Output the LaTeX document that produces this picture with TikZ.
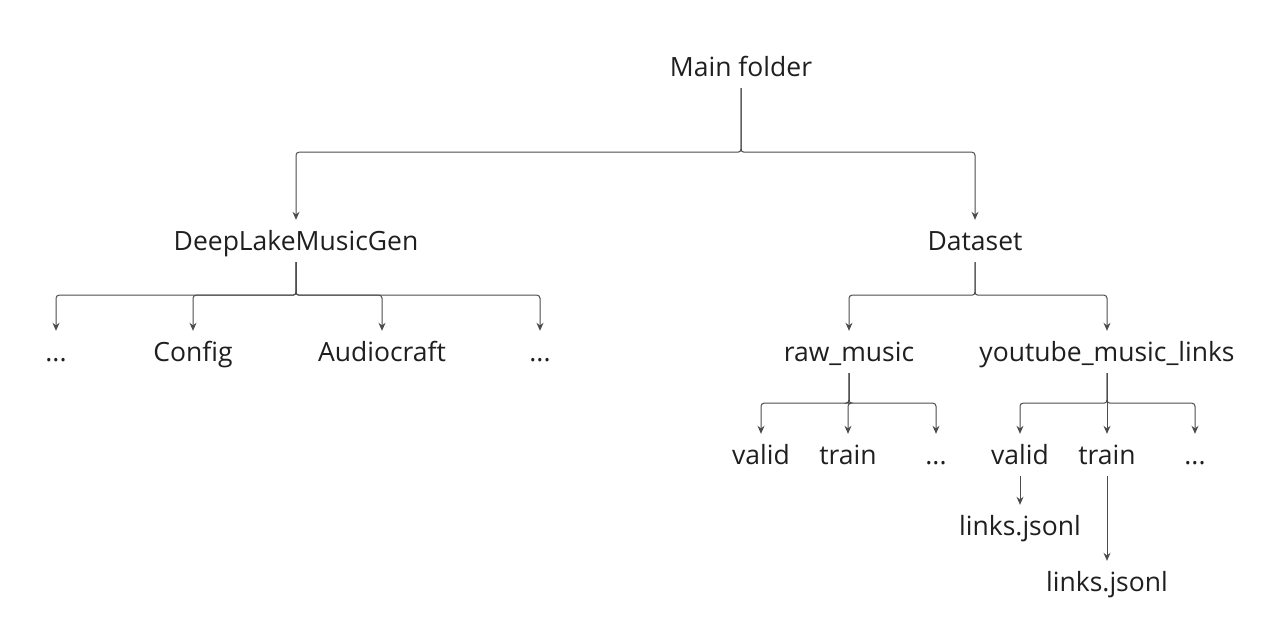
\documentclass[tikz,border=0pt]{standalone}
\usepackage{fontspec}
\setmainfont{Open Sans}
\usetikzlibrary{arrows.meta}

\begin{document}
\begin{tikzpicture}[x=1pt, y=-1pt, >={Stealth[length=8pt,width=7pt]},
  item/.style={inner sep=0pt, minimum height=42pt, text height=22pt, text depth=3pt,
    font=\fontsize{26.5}{30}\selectfont, text=black!88},
  link/.style={->, draw=black!70, line width=1pt, rounded corners=3pt}]
  \useasboundingbox (0,0) rectangle (1287,639);
  % top level
  \node[item] (main) at (741,67) {Main folder};
  \node[item] (deep) at (296,241) {DeepLakeMusicGen};
  \node[item] (data) at (975,241) {Dataset};
  % DeepLakeMusicGen children
  \node[item] (dotsA)  at (56,352)  {...};
  \node[item] (config) at (193,352) {Config};
  \node[item] (audio)  at (382,352) {Audiocraft};
  \node[item] (dotsB)  at (540,352) {...};
  % Dataset children
  \node[item] (raw) at (849,352)  {raw\_music};
  \node[item] (yt)  at (1107,352) {youtube\_music\_links};
  \node[item] (rvalid) at (761,455) {valid};
  \node[item] (rtrain) at (848,455) {train};
  \node[item] (rdots)  at (936,455) {...};
  \node[item] (yvalid) at (1020,455) {valid};
  \node[item] (ytrain) at (1107,455) {train};
  \node[item] (ydots)  at (1195,455) {...};
  \node[item] (vlinks) at (1020,526) {links.jsonl};
  \node[item] (tlinks) at (1107,582) {links.jsonl};
  % connectors
  \foreach \c in {deep,data}
    \draw[link] (main.south) -- ++(0,64) -| (\c.north);
  \foreach \c in {dotsA,config,audio,dotsB}
    \draw[link] (deep.south) -- ++(0,33) -| (\c.north);
  \foreach \c in {raw,yt}
    \draw[link] (data.south) -- ++(0,33) -| (\c.north);
  \foreach \c in {rvalid,rtrain,rdots}
    \draw[link] (raw.south) -- ++(0,30) -| (\c.north);
  \foreach \c in {yvalid,ytrain,ydots}
    \draw[link] (yt.south) -- ++(0,30) -| (\c.north);
  \draw[link] (yvalid) -- (vlinks);
  \draw[link] (ytrain) -- (tlinks);
\end{tikzpicture}
\end{document}
